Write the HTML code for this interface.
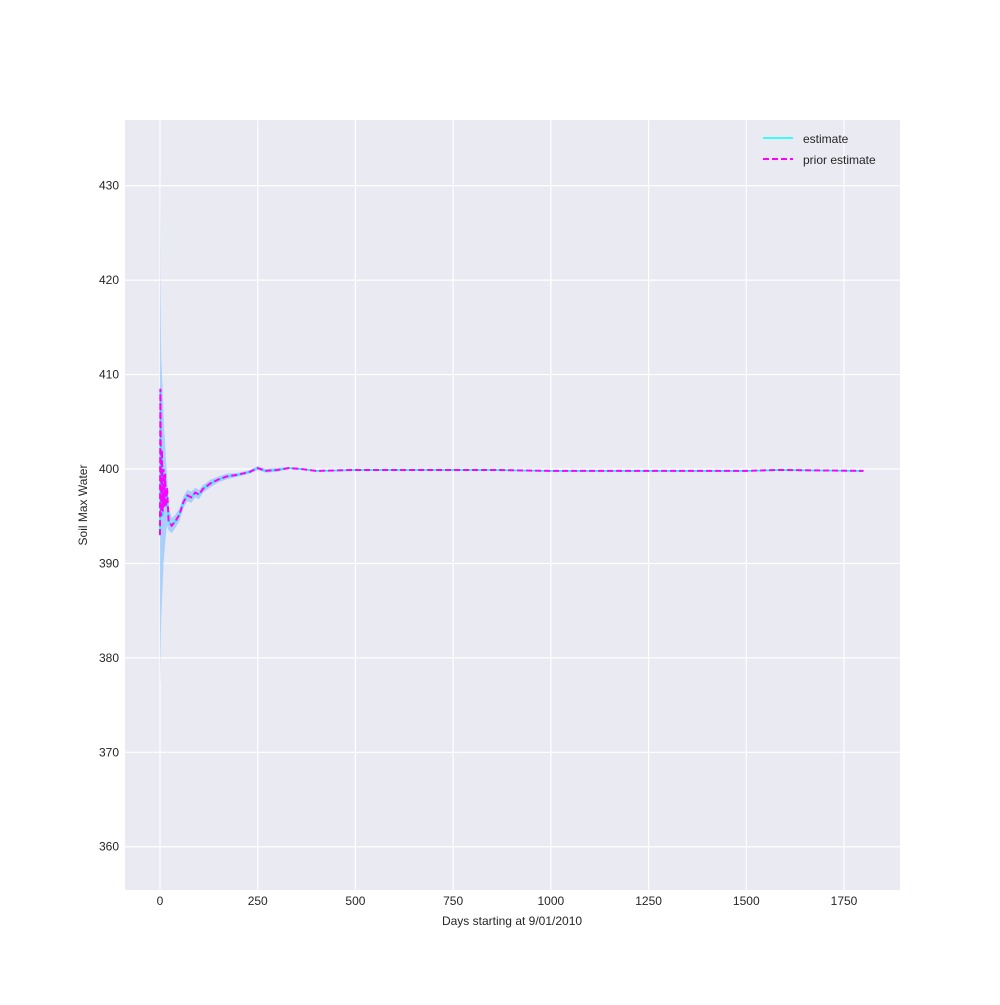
<!DOCTYPE html>
<html><head><meta charset="utf-8"><style>
body{margin:0;background:#fff;font-family:"Liberation Sans",sans-serif}
svg text{font-family:"Liberation Sans",sans-serif;fill:#262626}
</style></head><body>
<svg id="chart" width="1000" height="1000" xmlns="http://www.w3.org/2000/svg">
<rect x="125" y="120" width="775" height="770" fill="#eaeaf2"/>
<g id="grid"></g>
<g id="bands"></g>
<g id="lines"></g>
<g id="ticks"></g>
<text x="512" y="925" font-size="12" text-anchor="middle">Days starting at 9/01/2010</text>
<text transform="translate(87,505) rotate(-90)" font-size="12" text-anchor="middle">Soil Max Water</text>
<g>
<line x1="763" y1="138" x2="793" y2="138" stroke="#00ffff" stroke-width="1.5"/>
<text x="803" y="143" font-size="12">estimate</text>
<line x1="763" y1="159" x2="793" y2="159" stroke="#ff00ff" stroke-width="2" stroke-dasharray="6,3"/>
<text x="803" y="164" font-size="12">prior estimate</text>
</g>
</svg>
<script>
const days=[0,1,3,5,7,9,11,13,15,18,22,30,40,50,60,70,80,90,100,110,130,150,170,200,230,250,270,300,330,360,400,500,750,850,1000,1250,1500,1580,1800];
const estimate=[393,408.5,396,402,395,400,396,399.5,396,398,394.5,394,394.5,395.2,396.5,397.2,397,397.5,397.3,397.9,398.5,398.9,399.2,399.4,399.7,400.1,399.8,399.9,400.1,400.0,399.8,399.9,399.9,399.9,399.8,399.8,399.8,399.9,399.8];
const prior=[393,408.5,395,402,395.5,400,396,399.5,396,398,394.5,394,394.5,395.2,396.5,397.2,397,397.5,397.3,397.9,398.5,398.9,399.2,399.4,399.7,400.1,399.8,399.9,400.1,400.0,399.8,399.9,399.9,399.9,399.8,399.8,399.8,399.9,399.8];
const bandUpper=[432,420,412,410,408,406,404,403,401,399.5,396,394.8,395.2,395.9,397.1,397.8,397.6,398.0,397.8,398.3,398.9,399.2,399.5,399.6,399.9,400.3,400.0,400.1,400.2,400.1,399.9,400.0,400.0,400.0,399.9,399.9,399.9,400.0,399.9];
const bandLower=[377,380,384,386,388,390,391,392,393,394,393.5,393.2,393.8,394.5,395.9,396.6,396.4,397.0,396.8,397.5,398.1,398.6,398.9,399.2,399.5,399.9,399.6,399.7,400.0,399.9,399.7,399.8,399.8,399.8,399.7,399.7,399.7,399.8,399.7];
const xTicks=[0,250,500,750,1000,1250,1500,1750];
const yTicks=[360,370,380,390,400,410,420,430];
const NS="http://www.w3.org/2000/svg";
const X=d=>160+d*(684/1750);
const Y=v=>469-(v-400)*9.443;
function mk(t,a,p){const e=document.createElementNS(NS,t);for(const k in a)e.setAttribute(k,a[k]);p.appendChild(e);return e;}
const grid=document.getElementById('grid'),ticks=document.getElementById('ticks');
xTicks.forEach(t=>{const l=mk('line',{x1:X(t),x2:X(t),y1:120,y2:890,stroke:'#fff','stroke-width':1.2},grid);


const tx=mk('text',{x:X(t),y:905,'font-size':12,'text-anchor':'middle'},ticks);tx.textContent=t;

});
yTicks.forEach(t=>{const l=mk('line',{x1:125,x2:900,y1:Y(t),y2:Y(t),stroke:'#fff','stroke-width':1.2},grid);


const tx=mk('text',{x:119,y:Y(t)+4,'font-size':12,'text-anchor':'end'},ticks);tx.textContent=t;

});
let d='M'+days.map((b,i)=>X(b)+','+Y(bandUpper[i])).join('L');
for(let i=days.length-1;i>=0;i--)d+='L'+X(days[i])+','+Y(bandLower[i]);
const band=mk('path',{d:d+'Z',fill:'#8cc4ff','fill-opacity':0.7},document.getElementById('bands'));


const lines=document.getElementById('lines');
const pe=mk('path',{d:'M'+days.map((b,i)=>X(b)+','+Y(estimate[i])).join('L'),fill:'none',stroke:'#00ffff','stroke-width':1.5},lines);


const pp=mk('path',{d:'M'+days.map((b,i)=>X(b)+','+Y(prior[i])).join('L'),fill:'none',stroke:'#ff00ff','stroke-width':2,'stroke-dasharray':'6,3'},lines);


</script>
</body></html>
